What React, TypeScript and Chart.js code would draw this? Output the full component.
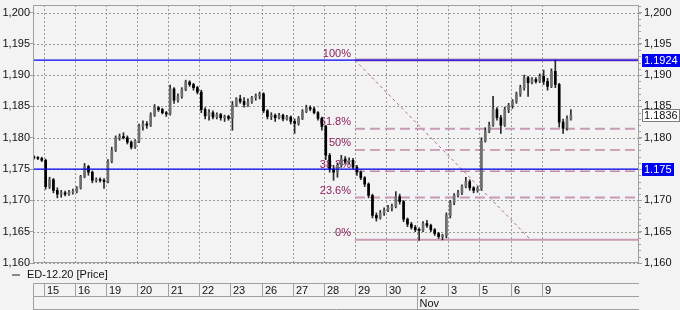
import React, { useEffect, useRef } from "react";
import { Chart, registerables } from "chart.js";

Chart.register(...registerables);

// ---------- data ----------
const dayLabels = ["15", "16", "19", "20", "21", "22", "23", "26", "27", "28", "29", "30", "2", "3", "5", "6", "9"];
const monthLabel = "Nov";
const monthStartIndex = 12;
const barsPerDay = 8;
const leadBars = 3;

const opens = [
  1.1769, 1.1768, 1.1767,
  1.1764, 1.1722, 1.1733, 1.1716, 1.1710, 1.1712, 1.1710, 1.1713,
  1.1714, 1.1720, 1.1738, 1.1754, 1.1745, 1.1732, 1.1733, 1.1732,
  1.1730, 1.1762, 1.1780, 1.1800, 1.1802, 1.1800, 1.1793, 1.1785,
  1.1795, 1.1818, 1.1822, 1.1820, 1.1836, 1.1848, 1.1845, 1.1840,
  1.1838, 1.1878, 1.1860, 1.1866, 1.1877, 1.1889, 1.1885, 1.1880,
  1.1873, 1.1845, 1.1835, 1.1840, 1.1833, 1.1837, 1.1832, 1.1834,
  1.1831, 1.1852, 1.1862, 1.1858, 1.1853, 1.1857, 1.1864, 1.1867,
  1.1870, 1.1843, 1.1834, 1.1836, 1.1832, 1.1836, 1.1830, 1.1833,
  1.1826, 1.1823, 1.1831, 1.1842, 1.1848, 1.1846, 1.1840, 1.1831,
  1.1818, 1.1772, 1.1750, 1.1745, 1.1756, 1.1766, 1.1762, 1.1764,
  1.1753, 1.1745, 1.1736, 1.1726, 1.1708, 1.1676, 1.1672, 1.1680,
  1.1684, 1.1688, 1.1690, 1.1706, 1.1698, 1.1670, 1.1662, 1.1657,
  1.1653, 1.1652, 1.1663, 1.1660, 1.1653, 1.1647, 1.1642, 1.1644,
  1.1676, 1.1697, 1.1708, 1.1712, 1.1722, 1.1730, 1.1720, 1.1716,
  1.1719, 1.1795, 1.1810, 1.1820, 1.1845, 1.1832, 1.1820, 1.1845,
  1.1852, 1.1858, 1.1870, 1.1880, 1.1896, 1.1888, 1.1893, 1.1890,
  1.1898, 1.1890, 1.1882, 1.1906, 1.1885, 1.1825, 1.1815, 1.1830,
];
const highs = [
  1.1771, 1.1770, 1.1769,
  1.1766, 1.1737, 1.1735, 1.1720, 1.1716, 1.1715, 1.1716, 1.1718,
  1.1722, 1.1740, 1.1759, 1.1756, 1.1747, 1.1736, 1.1736, 1.1735,
  1.1765, 1.1785, 1.1803, 1.1806, 1.1808, 1.1803, 1.1795, 1.1797,
  1.1822, 1.1827, 1.1826, 1.1840, 1.1853, 1.1850, 1.1847, 1.1842,
  1.1884, 1.1880, 1.1870, 1.1880, 1.1892, 1.1891, 1.1887, 1.1882,
  1.1876, 1.1848, 1.1845, 1.1843, 1.1840, 1.1839, 1.1836, 1.1836,
  1.1858, 1.1864, 1.1868, 1.1864, 1.1862, 1.1866, 1.1870, 1.1873,
  1.1872, 1.1845, 1.1840, 1.1838, 1.1839, 1.1838, 1.1836, 1.1835,
  1.1830, 1.1834, 1.1845, 1.1852, 1.1851, 1.1849, 1.1842, 1.1833,
  1.1820, 1.1775, 1.1756, 1.1760, 1.1772, 1.1770, 1.1768, 1.1767,
  1.1756, 1.1747, 1.1738, 1.1728, 1.1710, 1.1680, 1.1684, 1.1688,
  1.1692, 1.1694, 1.1714, 1.1710, 1.1700, 1.1672, 1.1665, 1.1660,
  1.1656, 1.1666, 1.1668, 1.1662, 1.1655, 1.1649, 1.1646, 1.1680,
  1.1700, 1.1711, 1.1716, 1.1725, 1.1737, 1.1733, 1.1722, 1.1722,
  1.1800, 1.1816, 1.1825, 1.1866, 1.1848, 1.1836, 1.1849, 1.1855,
  1.1861, 1.1873, 1.1884, 1.1900, 1.1898, 1.1896, 1.1896, 1.1902,
  1.1908, 1.1895, 1.1910, 1.1924, 1.1887, 1.1830, 1.1835, 1.1845,
];
const lows = [
  1.1766, 1.1765, 1.1762,
  1.1718, 1.1719, 1.1712, 1.1704, 1.1705, 1.1707, 1.1708, 1.1710,
  1.1712, 1.1718, 1.1736, 1.1740, 1.1728, 1.1729, 1.1729, 1.1719,
  1.1728, 1.1760, 1.1778, 1.1796, 1.1798, 1.1790, 1.1782, 1.1783,
  1.1792, 1.1812, 1.1815, 1.1818, 1.1834, 1.1842, 1.1838, 1.1834,
  1.1836, 1.1855, 1.1857, 1.1863, 1.1875, 1.1882, 1.1876, 1.1870,
  1.1840, 1.1830, 1.1828, 1.1830, 1.1830, 1.1828, 1.1826, 1.1828,
  1.1812, 1.1850, 1.1855, 1.1849, 1.1850, 1.1855, 1.1860, 1.1862,
  1.1840, 1.1830, 1.1829, 1.1826, 1.1830, 1.1827, 1.1828, 1.1822,
  1.1807, 1.1820, 1.1829, 1.1840, 1.1843, 1.1838, 1.1828, 1.1812,
  1.1765, 1.1745, 1.1732, 1.1737, 1.1753, 1.1759, 1.1758, 1.1750,
  1.1740, 1.1733, 1.1722, 1.1704, 1.1672, 1.1667, 1.1670, 1.1676,
  1.1682, 1.1683, 1.1688, 1.1694, 1.1666, 1.1658, 1.1654, 1.1650,
  1.1636, 1.1650, 1.1657, 1.1650, 1.1644, 1.1639, 1.1637, 1.1640,
  1.1672, 1.1693, 1.1705, 1.1709, 1.1720, 1.1716, 1.1712, 1.1713,
  1.1716, 1.1793, 1.1808, 1.1818, 1.1828, 1.1807, 1.1818, 1.1840,
  1.1847, 1.1855, 1.1866, 1.1876, 1.1866, 1.1886, 1.1887, 1.1888,
  1.1885, 1.1876, 1.1880, 1.1880, 1.1817, 1.1807, 1.1812, 1.1828,
];
const closes = [
  1.1768, 1.1767, 1.1764,
  1.1722, 1.1733, 1.1716, 1.1710, 1.1712, 1.1710, 1.1713, 1.1714,
  1.1720, 1.1738, 1.1754, 1.1745, 1.1732, 1.1733, 1.1732, 1.1730,
  1.1762, 1.1780, 1.1800, 1.1802, 1.1800, 1.1793, 1.1785, 1.1795,
  1.1818, 1.1822, 1.1820, 1.1836, 1.1848, 1.1845, 1.1840, 1.1838,
  1.1878, 1.1860, 1.1866, 1.1877, 1.1889, 1.1885, 1.1880, 1.1873,
  1.1845, 1.1835, 1.1840, 1.1833, 1.1837, 1.1832, 1.1834, 1.1831,
  1.1852, 1.1862, 1.1858, 1.1853, 1.1857, 1.1864, 1.1867, 1.1870,
  1.1843, 1.1834, 1.1836, 1.1832, 1.1836, 1.1830, 1.1833, 1.1826,
  1.1823, 1.1831, 1.1842, 1.1848, 1.1846, 1.1840, 1.1831, 1.1818,
  1.1772, 1.1750, 1.1745, 1.1756, 1.1766, 1.1762, 1.1764, 1.1753,
  1.1745, 1.1736, 1.1726, 1.1708, 1.1676, 1.1672, 1.1680, 1.1684,
  1.1688, 1.1690, 1.1706, 1.1698, 1.1670, 1.1662, 1.1657, 1.1653,
  1.1652, 1.1663, 1.1660, 1.1653, 1.1647, 1.1642, 1.1644, 1.1676,
  1.1697, 1.1708, 1.1712, 1.1722, 1.1730, 1.1720, 1.1716, 1.1719,
  1.1795, 1.1810, 1.1820, 1.1845, 1.1832, 1.1820, 1.1845, 1.1852,
  1.1858, 1.1870, 1.1880, 1.1896, 1.1888, 1.1893, 1.1890, 1.1898,
  1.1890, 1.1882, 1.1906, 1.1885, 1.1825, 1.1815, 1.1830, 1.1836,
];

const yTicks = [1.16, 1.165, 1.17, 1.175, 1.18, 1.185, 1.19, 1.195, 1.2];
const yMin = 1.16;
const yMax = 1.2012;
const xMin = -0.344;
const xMax = 19.126;

const hLineLevels = [1.1924, 1.175];
const hLineTags = ["1.1924", "1.175"];
const lastPrice = 1.1836;
const lastPriceTag = "1.1836";

const fibHigh = 1.1924;
const fibLow = 1.1637;
const fibRatios = [1, 0.618, 0.5, 0.382, 0.236, 0];
const fibLabels = ["100%", "61.8%", "50%", "38.2%", "23.6%", "0%"];
const fibStartDay = 10;
const fibDiagEndDay = 15.65;

const seriesName = "ED-12.20 [Price]";

// ---------- styles ----------
const FONT = "'Liberation Sans', Arial, sans-serif";
const BG = "#f3f3f3";
const GRID = "#9a9a9a";
const AXIS = "#a0a0a0";
const TEXT = "#111111";
const BLUE = "#0000f0";
const FIB_TEXT = "#8c2060";
const FIB_THICK = "#c89ab4";
const FIB_THIN = "#a8577f";

const fmt = (v: number) => v.toFixed(3).replace(".", ",");

export default function App() {
  const ref = useRef<HTMLCanvasElement>(null);

  useEffect(() => {
    document.body.style.margin = "0";
    const canvas = ref.current!;
    const xs = opens.map((_, i) => (i - leadBars + 0.5) / barsPerDay);
    const wickData = xs.map((x, i) => ({ x, y: [lows[i], highs[i]] }));
    const bodyData = xs.map((x, i) => ({ x, y: [opens[i], closes[i]] }));
    const bodyFill = opens.map((o, i) => (closes[i] >= o ? "#6e6e6e" : "#000000"));

    const fibDatasets = fibRatios.map((r) => {
      const v = fibLow + r * (fibHigh - fibLow);
      const solid = r === 1 || r === 0;
      const thick = r === 1 || r === 0 || r === 0.618 || r === 0.236;
      return {
        type: "line" as const,
        data: [{ x: fibStartDay, y: v }, { x: xMax, y: v }],
        borderColor: thick ? FIB_THICK : FIB_THIN,
        borderWidth: r === 1 ? 3 : thick ? 2 : 1,
        borderDash: solid ? [] : [10, 5],
        pointRadius: 0,
        order: 3,
      };
    });

    const diag = {
      type: "line" as const,
      data: [{ x: fibStartDay, y: fibHigh }, { x: fibDiagEndDay, y: fibLow }],
      borderColor: "#b06a92",
      borderWidth: 1,
      borderDash: [3, 3],
      pointRadius: 0,
      order: 3,
    };

    const blueLines = hLineLevels.map((v) => ({
      type: "line" as const,
      data: [{ x: xMin, y: v }, { x: xMax, y: v }],
      borderColor: BLUE,
      borderWidth: 1.3,
      pointRadius: 0,
      order: -1,
    }));

    const bgPlugin = {
      id: "bgPlugin",
      beforeDraw(chart: any) {
        const { ctx, width, height } = chart;
        ctx.save();
        ctx.fillStyle = BG;
        ctx.fillRect(0, 0, width, height);
        ctx.restore();
      },
      beforeDatasetsDraw(chart: any) {
        const { ctx, scales, chartArea: ca } = chart;
        ctx.save();
        // dotted grid
        ctx.strokeStyle = GRID;
        ctx.lineWidth = 1;
        ctx.setLineDash([2, 2]);
        ctx.beginPath();
        yTicks.forEach((v) => {
          const y = Math.round(scales.y.getPixelForValue(v)) + 0.5;
          ctx.moveTo(ca.left, y);
          ctx.lineTo(ca.right, y);
        });
        dayLabels.forEach((_, i) => {
          const x = Math.round(scales.x.getPixelForValue(i)) + 0.5;
          ctx.moveTo(x, ca.top);
          ctx.lineTo(x, ca.bottom);
        });
        ctx.stroke();
        ctx.setLineDash([]);
        // fib labels
        const xs0 = scales.x.getPixelForValue(fibStartDay);
        ctx.font = `11px ${FONT}`;
        ctx.fillStyle = FIB_TEXT;
        ctx.textAlign = "right";
        ctx.textBaseline = "bottom";
        fibRatios.forEach((r, i) => {
          const v = fibLow + r * (fibHigh - fibLow);
          const y = scales.y.getPixelForValue(v);
          ctx.fillText(fibLabels[i], xs0 - 4, y - 1);
        });
        ctx.restore();
      },
      afterDraw(chart: any) {
        const { ctx, chartArea: ca, scales } = chart;
        ctx.save();
        // frame
        ctx.strokeStyle = AXIS;
        ctx.lineWidth = 1;
        ctx.beginPath();
        ctx.moveTo(Math.round(ca.left) + 0.5, ca.top);
        ctx.lineTo(Math.round(ca.left) + 0.5, ca.bottom);
        ctx.moveTo(Math.round(ca.right) - 0.5, ca.top);
        ctx.lineTo(Math.round(ca.right) - 0.5, ca.bottom);
        ctx.moveTo(ca.left, Math.round(ca.top) + 0.5);
        ctx.lineTo(ca.right, Math.round(ca.top) + 0.5);
        ctx.moveTo(ca.left, Math.round(ca.bottom) - 0.5);
        ctx.lineTo(ca.right, Math.round(ca.bottom) - 0.5);
        ctx.stroke();
        // minor ticks on right axis
        ctx.beginPath();
        for (let k = 0; k <= 41; k++) {
          const v = yMin + k * 0.001;
          if (v > yMax) break;
          const y = Math.round(scales.y.getPixelForValue(v)) + 0.5;
          ctx.moveTo(Math.round(ca.right), y);
          ctx.lineTo(Math.round(ca.right) + 2, y);
        }
        ctx.stroke();

        // tags on right
        ctx.font = `11px ${FONT}`;
        ctx.textBaseline = "middle";
        ctx.textAlign = "left";
        const tag = (text: string, v: number, bg: string, fg: string, border: string | null) => {
          const y = Math.round(scales.y.getPixelForValue(v));
          const w = Math.ceil(ctx.measureText(text).width) + 4;
          const x = Math.round(ca.right) + 3;
          const h = 13;
          ctx.fillStyle = bg;
          ctx.fillRect(x, y - 6, w, h);
          if (border) {
            ctx.strokeStyle = border;
            ctx.strokeRect(x + 0.5, y - 6 + 0.5, w - 1, h - 1);
          }
          ctx.fillStyle = fg;
          ctx.fillText(text, x + 2, y + 1);
        };
        hLineLevels.forEach((v, i) => tag(hLineTags[i], v, BLUE, "#ffffff", null));
        tag(lastPriceTag, lastPrice, "#ffffff", TEXT, "#808080");

        // legend
        ctx.strokeStyle = "#8a8a8a";
        ctx.lineWidth = 2;
        ctx.beginPath();
        ctx.moveTo(12, 275);
        ctx.lineTo(20, 275);
        ctx.stroke();
        ctx.fillStyle = TEXT;
        ctx.fillText(seriesName, 27, 275);

        // bottom time axis box
        const top = 283.5;
        const mid = 296.5;
        const bot = 309.5;
        const left = Math.round(ca.left) + 0.5;
        const right = Math.round(ca.right);
        ctx.strokeStyle = AXIS;
        ctx.lineWidth = 1;
        ctx.beginPath();
        ctx.moveTo(left, top);
        ctx.lineTo(right, top);
        ctx.moveTo(left, mid);
        ctx.lineTo(right, mid);
        ctx.moveTo(left, bot);
        ctx.lineTo(right, bot);
        ctx.moveTo(left, top);
        ctx.lineTo(left, 310);
        dayLabels.forEach((_, i) => {
          const px = Math.round(scales.x.getPixelForValue(i)) + 0.5;
          ctx.moveTo(px, top);
          ctx.lineTo(px, mid);
        });
        const mx = Math.round(scales.x.getPixelForValue(monthStartIndex)) + 0.5;
        ctx.moveTo(mx, mid);
        ctx.lineTo(mx, 310);
        ctx.stroke();
        ctx.fillStyle = TEXT;
        dayLabels.forEach((lab, i) => {
          const px = Math.round(scales.x.getPixelForValue(i));
          ctx.fillText(lab, px + 3, 290.5);
        });
        ctx.fillText(monthLabel, mx + 2, 303.5);
        ctx.restore();
      },
    };

    const chart = new Chart(canvas, {
      type: "bar",
      data: {
        datasets: [
          {
            type: "bar",
            data: bodyData as any,
            backgroundColor: bodyFill,
            borderWidth: 0,
            barThickness: 2,
            minBarLength: 1,
            grouped: false,
            order: 0,
          } as any,
          {
            type: "bar",
            data: wickData as any,
            backgroundColor: "#2a2a2a",
            borderWidth: 0,
            barThickness: 1,
            grouped: false,
            order: 1,
          } as any,
          ...fibDatasets,
          diag,
          ...blueLines,
        ],
      },
      options: {
        animation: false,
        responsive: false,
        devicePixelRatio: 1,
        layout: { padding: { top: 5, bottom: 47, left: 0, right: 0 } },
        plugins: { legend: { display: false }, tooltip: { enabled: false } },
        scales: {
          x: {
            type: "linear",
            min: xMin,
            max: xMax,
            offset: false,
            afterBuildTicks: (s: any) => {
              s.ticks = dayLabels.map((_, i) => ({ value: i }));
            },
            ticks: { display: false },
            grid: { display: false, offset: false },
            border: { display: false },
            afterFit: (s: any) => {
              s.height = 0;
              s.paddingLeft = 0;
              s.paddingRight = 0;
            },
          } as any,
          y: {
            type: "linear",
            position: "left",
            min: yMin,
            max: yMax,
            afterBuildTicks: (s: any) => {
              s.ticks = yTicks.map((v) => ({ value: v }));
            },
            ticks: { callback: (v: any) => fmt(Number(v)), font: { family: FONT, size: 11 }, color: TEXT, padding: 0 },
            grid: { drawOnChartArea: false, drawTicks: true, tickLength: 3, tickColor: AXIS },
            border: { display: false },
            afterFit: (s: any) => {
              s.width = 33;
              s.paddingTop = 0;
              s.paddingBottom = 0;
            },
          } as any,
          y2: {
            type: "linear",
            position: "right",
            min: yMin,
            max: yMax,
            afterBuildTicks: (s: any) => {
              s.ticks = yTicks.map((v) => ({ value: v }));
            },
            ticks: { callback: (v: any) => fmt(Number(v)), font: { family: FONT, size: 11 }, color: TEXT, padding: 2 },
            grid: { drawOnChartArea: false, drawTicks: true, tickLength: 3, tickColor: AXIS },
            border: { display: false },
            afterFit: (s: any) => {
              s.width = 41;
              s.paddingTop = 0;
              s.paddingBottom = 0;
            },
          } as any,
        },
      },
      plugins: [bgPlugin],
    });

    return () => chart.destroy();
  }, []);

  return (
    <div style={{ width: 680, height: 310, position: "relative" }}>
      <canvas ref={ref} width={680} height={310} style={{ display: "block", width: 680, height: 310 }} />
    </div>
  );
}
